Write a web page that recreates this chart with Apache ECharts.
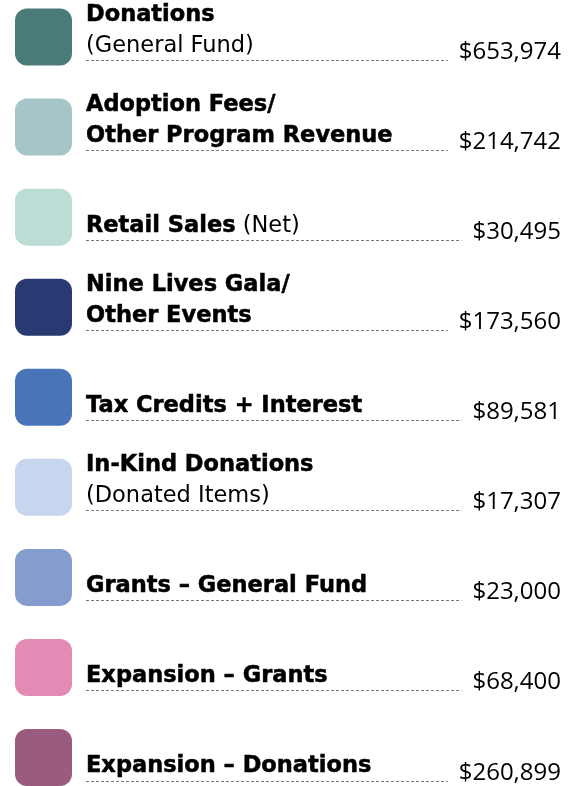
<!DOCTYPE html>
<html>
<head>
<meta charset="utf-8">
<script src="https://cdn.jsdelivr.net/npm/echarts@6/dist/echarts.min.js"></script>
<style>
html,body{margin:0;padding:0;background:#fff;}
#chart{width:574px;height:786px;}
</style>
</head>
<body>
<div id="chart"></div>
<script>
// ---- data ----
const categories = [
  'Donations',
  'Adoption Fees/\nOther Program Revenue',
  'Retail Sales',
  'Nine Lives Gala/\nOther Events',
  'Tax Credits + Interest',
  'In-Kind Donations',
  'Grants – General Fund',
  'Expansion – Grants',
  'Expansion – Donations'
];
const notes = ['\n(General Fund)', '', ' (Net)', '', '', '\n(Donated Items)', '', '', ''];
const values = [653974, 214742, 30495, 173560, 89581, 17307, 23000, 68400, 260899];
const colors = ['#4a7b79', '#a5c5c9', '#bcdcd6', '#293a73', '#4a74b8', '#c8d5ee', '#859ccf', '#e38ab5', '#9b5b7e'];

// ---- helpers ----
const VALUE_FONT = '24px "Open Sans"';
const LABEL_SIZE = 22.5;
const LINE_H = 31;
const measureCtx = document.createElement('canvas').getContext('2d');
function fmt(v) { return '$' + v.toLocaleString('en-US'); }
function textWidth(t) { measureCtx.font = VALUE_FONT; return measureCtx.measureText(t).width; }
function richLabel(main, note) {
  const mainPart = main.split('\n').map(s => '{b|' + s + '}').join('\n');
  if (!note) return mainPart;
  if (note.startsWith('\n')) return mainPart + '\n{r|' + note.slice(1) + '}';
  return mainPart + '{r|' + note + '}';
}

const chart = echarts.init(document.getElementById('chart'), null, { renderer: 'canvas' });
const seriesData = categories.map((c, i) => [0, i, values[i]]);

chart.setOption({
  animation: false,
  backgroundColor: '#ffffff',
  grid: { left: 0, right: 0, top: 37, bottom: 28.5 },
  xAxis: { type: 'value', min: 0, max: 1, show: false },
  yAxis: { type: 'category', data: categories, inverse: true, boundaryGap: false, show: false },
  series: [{
    type: 'custom',
    data: seriesData,
    renderItem: function (params, api) {
      const i = api.value(1);
      const cy = api.coord([0, i])[1];
      const valText = fmt(api.value(2));
      const vw = textWidth(valText);
      const rightX = 561;
      const dashY = Math.round(cy + 23) + 0.5;
      const baseline = cy + 13.5;
      return {
        type: 'group',
        children: [
          {
            type: 'rect',
            shape: { x: 15, y: cy - 28.5, width: 57, height: 57, r: 12 },
            style: { fill: colors[i] }
          },
          {
            type: 'text',
            style: {
              x: 86,
              y: baseline + LINE_H / 2 - 0.214 * LABEL_SIZE,
              text: richLabel(categories[i], notes[i]),
              align: 'left',
              verticalAlign: 'bottom',
              rich: {
                b: { fontFamily: 'DejaVu Sans', fontWeight: 'bold', fontSize: LABEL_SIZE, lineHeight: LINE_H, fill: '#000', stroke: '#000', lineWidth: 0.5 },
                r: { fontFamily: 'DejaVu Sans', fontWeight: 'normal', fontSize: LABEL_SIZE, lineHeight: LINE_H, fill: '#000' }
              }
            }
          },
          {
            type: 'line',
            shape: { x1: 86, y1: dashY, x2: rightX - vw - 11, y2: dashY },
            style: { stroke: '#7a7a7a', lineWidth: 1, lineDash: [3, 2] }
          },
          {
            type: 'text',
            style: {
              x: rightX,
              y: dashY - 8,
              text: valText,
              font: VALUE_FONT,
              fill: '#000',
              align: 'right',
              verticalAlign: 'middle'
            }
          }
        ]
      };
    }
  }]
});
</script>
</body>
</html>
